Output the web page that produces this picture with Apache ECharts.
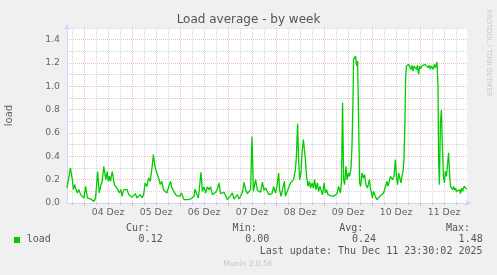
<!DOCTYPE html>
<html>
<head>
<meta charset="utf-8">
<script src="https://cdn.jsdelivr.net/npm/echarts@6/dist/echarts.min.js"></script>
<style>
html,body{margin:0;padding:0;background:#f0f0f0;}
#chart{width:497px;height:275px;}
</style>
</head>
<body>
<div id="chart"></div>
<script>
// Hours relative to 04 Dez 00:00, with load values
var hours = [
-8.5,-7.9,-7.5,-6.8,-6.3,-5.8,-5.3,-4.6,-4.0,-3.3,-2.5,-1.7,-0.8,0.0,0.8,1.7,2.5,3.3,4.1,5.0,
5.8,6.8,7.1,7.6,8.3,9.1,9.9,10.3,10.9,11.6,12.1,12.7,13.2,14.1,14.6,15.2,16.1,16.9,17.7,18.5,
19.0,19.9,20.7,21.5,22.4,23.2,24.0,24.8,25.7,26.5,27.3,28.1,29.0,29.8,30.6,31.5,32.3,33.1,33.9,34.7,
35.1,35.6,36.4,37.3,38.1,38.9,39.7,40.6,41.4,42.2,
43.3,43.8,44.5,45.3,46.2,47.0,47.8,48.7,49.5,50.0,50.8,51.7,52.5,53.3,54.2,55.0,55.5,56.3,57.2,57.8,
58.5,59.2,60.0,60.8,61.7,62.5,63.3,64.2,65.0,65.8,66.7,67.5,68.3,69.2,70.0,70.8,71.7,72.5,73.3,74.2,
75.0,75.8,76.7,77.5,78.3,79.2,80.0,80.8,81.7,82.5,83.3,84.0,84.7,85.3,85.8,86.7,87.5,88.3,89.2,90.0,
90.8,91.7,92.5,93.3,
94.0,94.8,95.7,96.5,97.3,97.8,98.5,99.3,100.2,100.7,101.5,102.3,103.2,104.0,104.8,105.7,106.2,106.8,107.3,107.8,
108.5,109.0,109.7,110.2,110.7,111.3,112.0,112.7,113.3,114.0,114.7,115.3,116.0,116.7,117.3,118.0,118.7,119.3,120.0,120.7,
121.3,122.0,122.7,123.3,124.0,124.8,125.7,126.5,127.3,128.2,128.7,129.3,129.8,130.3,131.0,131.5,132.2,132.8,133.5,134.0,
134.5,134.8,135.3,135.8,136.3,136.8,137.3,137.8,138.3,139.0,139.7,140.3,141.0,141.7,142.3,
142.7,143.2,143.7,144.2,144.7,145.2,145.7,146.5,147.3,148.2,149.0,149.8,150.7,151.5,152.0,152.7,153.2,153.7,154.3,155.0,
155.7,156.2,156.8,157.3,158.0,158.5,159.0,159.5,160.0,160.5,160.8,161.2,161.7,162.3,163.0,163.5,164.0,164.5,165.0,165.7,
166.2,166.7,167.3,167.8,168.3,169.0,169.5,170.0,170.5,171.0,171.5,172.0,172.7,173.2,173.7,174.2,174.7,175.2,175.7,176.2,
176.5,177.0,177.3,177.7,178.2,178.7,179.2,179.7,180.2,180.7,181.2,181.7,182.3,182.8,183.3,183.8,184.3,184.8,185.3,185.8,
186.3,187.0,187.7,188.2,188.7,189.3,190.0,190.7,191.3,191.5
];
var load = [
0.13,0.115,0.143,0.30,0.30,0.20,0.115,0.158,0.115,0.086,0.115,0.072,0.072,0.043,0.143,0.043,0.034,0.034,0.023,0.014,
0.043,0.27,0.20,0.086,0.143,0.186,0.315,0.315,0.20,0.27,0.186,0.23,0.186,0.27,0.215,0.158,0.143,0.115,0.086,0.115,
0.057,0.115,0.10,0.115,0.072,0.086,0.05,0.043,0.08,0.043,0.057,0.072,0.043,0.072,0.17,0.143,0.215,0.186,0.287,0.415,
0.40,0.30,0.26,0.215,0.158,0.186,0.115,0.13,0.086,0.13,
0.186,0.138,0.149,0.086,0.063,0.08,0.057,0.086,0.072,0.029,0.034,0.029,0.043,0.034,0.037,0.057,0.12,0.08,0.043,0.057,
0.264,0.10,0.138,0.086,0.138,0.115,0.138,0.072,0.08,0.092,0.12,0.172,0.08,0.063,0.092,0.077,0.029,0.043,0.063,0.086,
0.034,0.052,0.072,0.034,0.057,0.092,0.178,0.115,0.08,0.086,0.115,0.567,0.10,0.115,0.20,0.109,0.12,0.092,0.178,0.109,
0.129,0.143,0.072,0.057,
0.08,0.143,0.086,0.143,0.257,0.114,0.057,0.043,0.186,0.057,0.057,0.128,0.172,0.157,0.20,0.286,0.40,0.68,0.372,0.20,
0.257,0.43,0.543,0.557,0.372,0.229,0.143,0.186,0.128,0.172,0.128,0.20,0.114,0.172,0.10,0.143,0.10,0.071,0.172,0.086,
0.114,0.071,0.077,0.063,0.08,0.057,0.063,0.08,0.143,0.086,0.172,0.86,0.20,0.157,0.315,0.20,0.257,0.229,0.30,0.486,
0.887,1.23,1.245,1.26,1.174,1.217,0.716,0.172,0.143,0.257,0.214,0.243,0.157,0.128,0.143,
0.20,0.128,0.086,0.043,0.10,0.109,0.057,0.028,0.043,0.063,0.08,0.086,0.08,0.186,0.143,0.157,0.229,0.214,0.20,0.229,
0.372,0.229,0.157,0.257,0.272,0.172,0.229,0.272,0.372,0.716,1.06,1.174,1.188,1.188,1.174,1.145,1.18,1.131,1.174,1.188,
1.145,1.18,1.102,1.174,1.151,1.174,1.16,1.174,1.188,1.202,1.174,1.16,1.18,1.145,1.174,1.16,1.145,1.188,1.16,1.174,
1.208,1.0,0.372,0.157,0.687,0.796,0.486,0.229,0.172,0.272,0.229,0.315,0.43,0.243,0.143,0.157,0.114,0.143,0.109,0.128,
0.10,0.091,0.114,0.08,0.128,0.10,0.143,0.128,0.12,0.12
];
// Axis ticks (hours relative to 04 Dez 00:00)
var midnightTicks = [0, 24, 48, 72, 96, 120, 144, 168];
var minorTicks = [-6, 6, 12, 18, 30, 36, 42, 54, 60, 66, 78, 84, 90, 102, 108, 114, 126, 132, 138, 150, 156, 162, 174, 180, 186];
var dayLabelHours = [12, 36, 60, 84, 108, 132, 156, 180];
var dayLabels = ['04 Dez', '05 Dez', '06 Dez', '07 Dez', '08 Dez', '09 Dez', '10 Dez', '11 Dez'];
var statLabels = ['Cur:', 'Min:', 'Avg:', 'Max:'];
var statValues = ['0.12', '0.00', '0.24', '1.48'];
var seriesName = 'load';
var lastUpdate = 'Last update: Thu Dec 11 23:30:02 2025';

var MINOR = 'rgba(143,143,143,0.38)';
var MAJOR = 'rgba(222,79,79,0.38)';
var AXIS = '#CFD6F8';
var FONT = '#666666';

var data = hours.map(function (h, i) { return [h, load[i]]; });

var chart = echarts.init(document.getElementById('chart'), null, {renderer: 'canvas'});

var statRightX = [150, 256.7, 363.3, 470];
var valRightX = [162.7, 269.3, 376, 482.7];
var graphics = [
  {type: 'text', x: 248.5, y: 19.5, style: {text: 'Load average - by week', fill: '#555555', font: '12px "DejaVu Sans"', align: 'center', verticalAlign: 'middle'}},
  {type: 'text', x: 9.5, y: 115.5, rotation: Math.PI / 2, style: {text: 'load', fill: FONT, font: '10px "DejaVu Sans"', align: 'center', verticalAlign: 'middle'}},
  {type: 'text', x: 488.5, y: 53, rotation: -Math.PI / 2, style: {text: 'RRDTOOL / TOBI OETIKER', fill: '#c8c8c8', font: '6.8px "DejaVu Sans"', align: 'center', verticalAlign: 'middle'}},
  {type: 'rect', shape: {x: 14, y: 237, width: 6, height: 6}, style: {fill: '#00cc00'}},
  {type: 'text', x: 26.7, y: 239.5, style: {text: seriesName, fill: '#555555', font: '10px "DejaVu Sans Mono"', align: 'left', verticalAlign: 'middle'}},
  {type: 'text', x: 482.5, y: 251, style: {text: lastUpdate, fill: '#555555', font: '10px "DejaVu Sans Mono"', align: 'right', verticalAlign: 'middle'}},
  {type: 'text', x: 248, y: 264.5, style: {text: 'Munin 2.0.56', fill: '#c4c4c4', font: '7.5px "DejaVu Sans"', align: 'center', verticalAlign: 'middle'}}
];
statLabels.forEach(function (s, i) {
  graphics.push({type: 'text', x: statRightX[i], y: 228.3, style: {text: s, fill: '#555555', font: '10px "DejaVu Sans Mono"', align: 'right', verticalAlign: 'middle'}});
  graphics.push({type: 'text', x: valRightX[i], y: 239.5, style: {text: statValues[i], fill: '#555555', font: '10px "DejaVu Sans Mono"', align: 'right', verticalAlign: 'middle'}});
});

chart.setOption({
  animation: false,
  backgroundColor: '#f0f0f0',
  grid: {left: 67, top: 28, width: 400, height: 175, show: true, backgroundColor: '#ffffff', borderWidth: 0, containLabel: false, outerBoundsMode: 'none'},
  xAxis: [{
    type: 'value', min: -8.5, max: 191.5, position: 'bottom',
    axisLine: {show: true, onZero: false, lineStyle: {color: AXIS, width: 1}, symbol: ['none', 'arrow'], symbolSize: [5, 6], symbolOffset: [0, 4]},
    axisTick: {show: true, length: 2, customValues: minorTicks, lineStyle: {color: MINOR}},
    axisLabel: {show: true, customValues: dayLabelHours, margin: 5, color: FONT, fontFamily: 'DejaVu Sans', fontSize: 9.3,
      formatter: function (v) { var i = dayLabelHours.indexOf(Math.round(v)); return i >= 0 ? dayLabels[i] : ''; }},
    splitLine: {show: true, lineStyle: {color: MINOR, type: [1, 1], width: 1}}
  }, {
    type: 'value', min: -8.5, max: 191.5, position: 'bottom',
    axisLine: {show: false, onZero: false},
    axisTick: {show: true, length: 3, customValues: midnightTicks, lineStyle: {color: MAJOR}},
    axisLabel: {show: false},
    splitLine: {show: true, lineStyle: {color: MAJOR, type: [1, 1], width: 1}}
  }],
  yAxis: {
    type: 'value', min: 0, max: 1.5, interval: 0.1,
    axisLine: {show: true, onZero: false, lineStyle: {color: AXIS, width: 1}, symbol: ['none', 'arrow'], symbolSize: [5, 6], symbolOffset: [0, 4]},
    axisTick: {show: false},
    axisLabel: {margin: 7, color: FONT, fontFamily: 'DejaVu Sans', fontSize: 9.3,
      formatter: function (v) { var k = Math.round(v * 10); return (k % 2 === 0 && k <= 14) ? (k / 10).toFixed(1) : ''; }},
    splitLine: {show: true, lineStyle: {color: [MAJOR, MINOR], type: [1, 1], width: 1}}
  },
  series: [{
    name: seriesName, type: 'line', xAxisIndex: 0, data: data, showSymbol: false, symbol: 'none',
    lineStyle: {color: '#00cc00', width: 1.3}, z: 5, silent: true
  }],
  graphic: {elements: graphics}
});
</script>
</body>
</html>
